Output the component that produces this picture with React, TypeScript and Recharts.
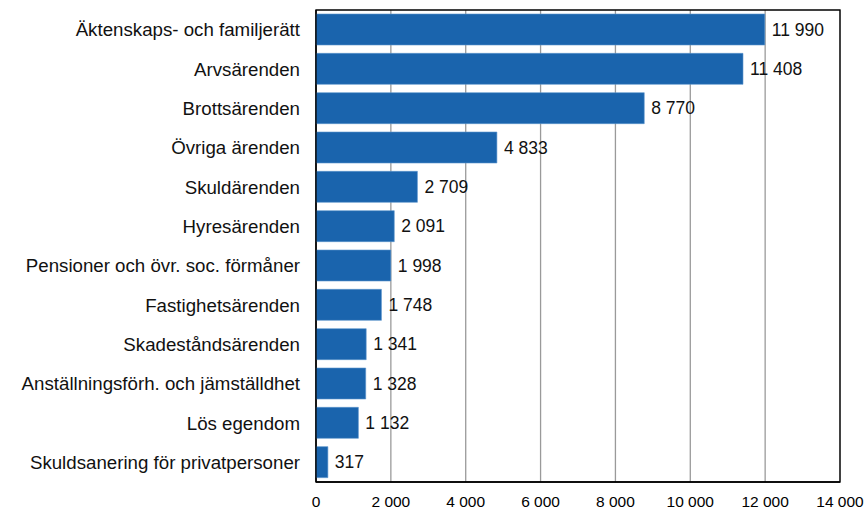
import React from 'react';
import { BarChart, Bar, XAxis, YAxis, CartesianGrid, LabelList, ReferenceArea } from 'recharts';

const categories = [
  'Äktenskaps- och familjerätt',
  'Arvsärenden',
  'Brottsärenden',
  'Övriga ärenden',
  'Skuldärenden',
  'Hyresärenden',
  'Pensioner och övr. soc. förmåner',
  'Fastighetsärenden',
  'Skadeståndsärenden',
  'Anställningsförh. och jämställdhet',
  'Lös egendom',
  'Skuldsanering för privatpersoner',
];
const values = [11990, 11408, 8770, 4833, 2709, 2091, 1998, 1748, 1341, 1328, 1132, 317];
const xTicks = [0, 2000, 4000, 6000, 8000, 10000, 12000, 14000];

const data = categories.map((name, i) => ({ name, value: values[i] }));

const fmt = (v: number) => String(v).replace(/\B(?=(\d{3})+(?!\d))/g, ' ');
const font = '"Liberation Sans", Arial, sans-serif';

export default function App() {
  return (
    <div style={{ width: 865, height: 511, fontFamily: font }}>
      <style>{`body{margin:0}`}</style>
      <BarChart
        width={865}
        height={511}
        data={data}
        layout="vertical"
        margin={{ top: 10, right: 25, bottom: 0, left: 0 }}
        barCategoryGap={4}
      >
        <CartesianGrid horizontal={false} stroke="#9a9a9a" strokeWidth={1.3} />
        <XAxis
          type="number"
          domain={[0, 14000]}
          ticks={xTicks}
          tickFormatter={fmt}
          height={29}
          axisLine={{ stroke: '#000', strokeWidth: 1.3 }}
          tickLine={false}
          tick={{ fill: '#000', fontSize: 15.5, fontFamily: font }}
          tickMargin={8}
          interval={0}
        />
        <YAxis
          type="category"
          dataKey="name"
          width={316}
          axisLine={{ stroke: '#000', strokeWidth: 1.3 }}
          tickLine={false}
          tick={{ fill: '#111', fontSize: 18.7, fontFamily: font }}
          tickMargin={10}
          interval={0}
        />
        <ReferenceArea x1={0} x2={14000} fill="none" stroke="#000" strokeWidth={1.3} ifOverflow="visible" />
        <Bar dataKey="value" fill="#1a64ad" stroke="#5b93cc" strokeWidth={0.6} isAnimationActive={false}>
          <LabelList
            dataKey="value"
            position="right"
            offset={7}
            formatter={(v: any) => fmt(Number(v))}
            style={{ fill: '#111', fontSize: 17.5, fontFamily: font }}
          />
        </Bar>
      </BarChart>
    </div>
  );
}
